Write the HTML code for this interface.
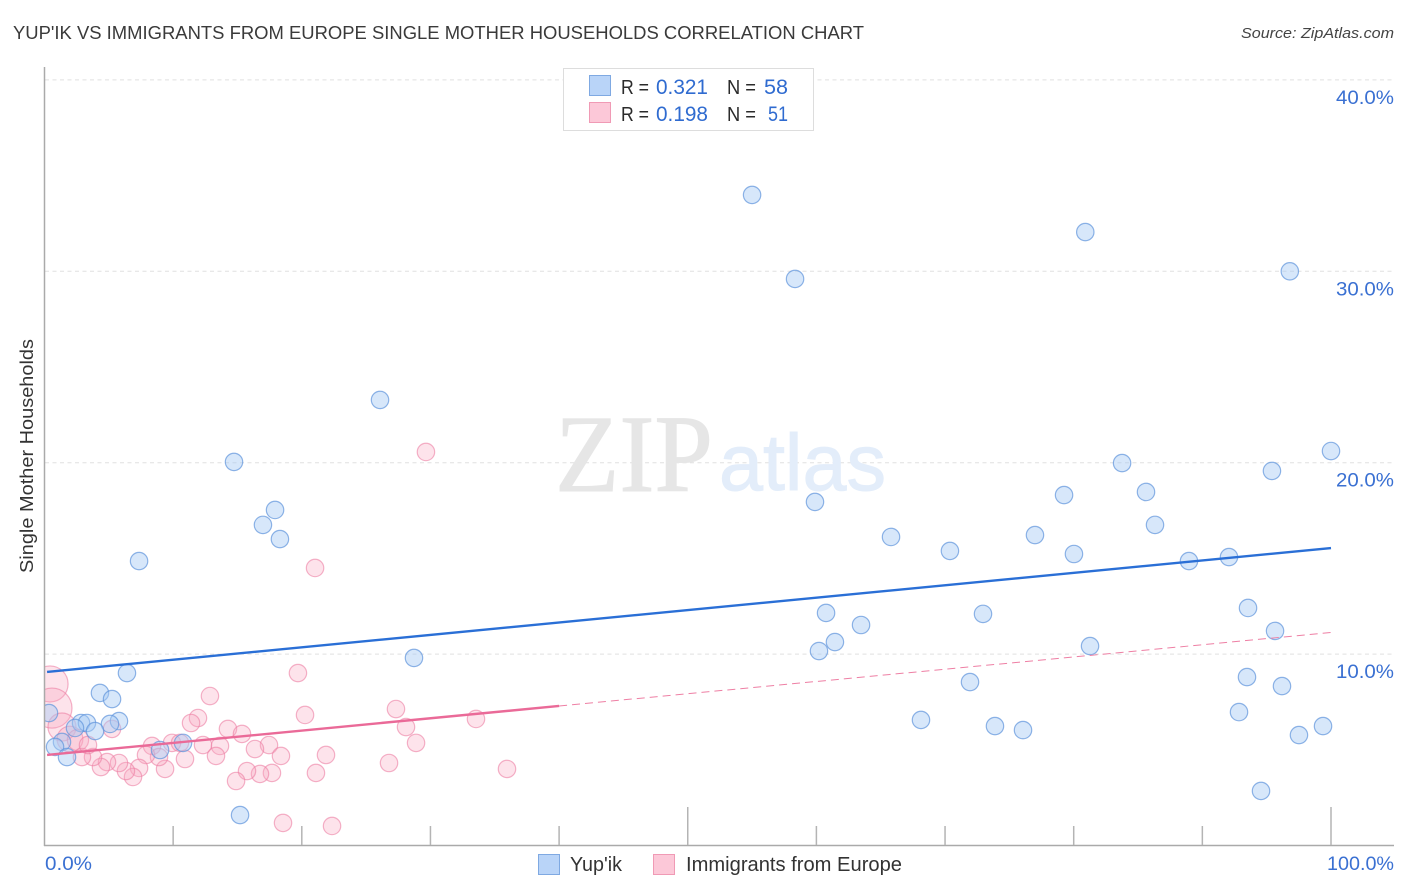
<!DOCTYPE html>
<html lang="en">
<head>
<meta charset="utf-8">
<title>Yup'ik vs Immigrants from Europe Single Mother Households Correlation Chart</title>
<style>
html,body{margin:0;padding:0;background:#fff;width:1406px;height:892px;overflow:hidden}
svg{display:block;font-family:"Liberation Sans",sans-serif}
</style>
</head>
<body>
<svg id="chart" width="1406" height="892" viewBox="0 0 1406 892" xmlns="http://www.w3.org/2000/svg">
  <text x="13" y="39" font-size="18.5" fill="#3a3a3a" textLength="851" lengthAdjust="spacingAndGlyphs">YUP'IK VS IMMIGRANTS FROM EUROPE SINGLE MOTHER HOUSEHOLDS CORRELATION CHART</text>
  <text x="1394" y="38" font-size="15" font-style="italic" fill="#444" text-anchor="end" textLength="153" lengthAdjust="spacingAndGlyphs">Source: ZipAtlas.com</text>
  <g id="grid"></g>
  <g>
    <text x="555" y="491" font-family="'Liberation Serif',serif" font-size="110" fill="#e6e6e6" stroke="#e6e6e6" stroke-width="1" textLength="158" lengthAdjust="spacingAndGlyphs">ZIP</text>
    <text x="719" y="490" font-size="80" fill="#e3edfa" stroke="#e3edfa" stroke-width="1" textLength="167" lengthAdjust="spacingAndGlyphs">atlas</text>
  </g>
  <g id="pink-points"></g>
  <g id="blue-points"></g>
  <rect x="0" y="60" width="44.5" height="790" fill="#fff"/>
  <g id="trends"></g>
  <g id="axes"></g>
  <text transform="translate(33,456) rotate(-90)" font-size="18.5" fill="#333" text-anchor="middle" textLength="234" lengthAdjust="spacingAndGlyphs">Single Mother Households</text>
  <g>
    <rect x="563.5" y="68.5" width="250" height="62" fill="#fff" stroke="#ddd"/>
    <rect x="589.5" y="75.5" width="21" height="20" fill="#b9d4f8" stroke="#7fa9e2"/>
    <rect x="589.5" y="102.5" width="21" height="20" fill="#fcc8d8" stroke="#f09ab5"/>
    <g font-size="20" fill="#2b2b2b">
      <text x="621" y="94" textLength="28" lengthAdjust="spacingAndGlyphs">R =</text>
      <text x="727" y="94" textLength="29" lengthAdjust="spacingAndGlyphs">N =</text>
      <text x="621" y="121" textLength="28" lengthAdjust="spacingAndGlyphs">R =</text>
      <text x="727" y="121" textLength="29" lengthAdjust="spacingAndGlyphs">N =</text>
    </g>
    <g font-size="21" fill="#2f6bd0">
      <text x="656" y="94" textLength="52" lengthAdjust="spacingAndGlyphs">0.321</text>
      <text x="764" y="94" textLength="24" lengthAdjust="spacingAndGlyphs">58</text>
      <text x="656" y="121" textLength="52" lengthAdjust="spacingAndGlyphs">0.198</text>
      <text x="768" y="121" textLength="20" lengthAdjust="spacingAndGlyphs">51</text>
    </g>
  </g>
  <g>
    <rect x="538.5" y="854.5" width="21" height="20" fill="#b9d4f8" stroke="#7fa9e2"/>
    <text x="570" y="871" font-size="20" fill="#333" textLength="52" lengthAdjust="spacingAndGlyphs">Yup'ik</text>
    <rect x="653.5" y="854.5" width="21" height="20" fill="#fcc8d8" stroke="#f09ab5"/>
    <text x="686" y="871" font-size="20" fill="#333" textLength="216" lengthAdjust="spacingAndGlyphs">Immigrants from Europe</text>
  </g>
</svg>
<script>
const yTickValues = [10, 20, 30, 40];
const yTickLabels = ["10.0%", "20.0%", "30.0%", "40.0%"];
const xTickValues = [0, 10, 20, 30, 40, 50, 60, 70, 80, 90, 100];
const xEndLabels = ["0.0%", "100.0%"];

const blueX = [55.0,80.9,58.34,96.8,26.08,100,14.73,83.76,95.41,79.25,85.62,59.89,17.92,16.98,86.32,18.3,65.8,76.99,70.38,80.02,7.35,88.96,92.07,93.55,60.75,72.95,63.47,95.65,61.44,60.2,81.27,28.72,6.41,71.94,93.47,96.19,4.31,5.25,92.85,68.13,0.35,5.79,2.84,3.3,5.09,73.88,76.06,99.38,97.51,3.93,2.37,1.36,0.82,10.77,8.98,1.75,94.56,15.2];
const blueY = [33.99,32.05,29.6,30.0,23.28,20.61,20.04,19.98,19.57,18.31,18.47,17.95,17.53,16.75,16.75,16.01,16.12,16.22,15.39,15.23,14.86,14.86,15.07,12.41,12.15,12.1,11.52,11.21,10.63,10.16,10.42,9.8,9.01,8.54,8.8,8.33,7.97,7.65,6.97,6.56,6.92,6.5,6.4,6.4,6.35,6.24,6.03,6.24,5.77,5.98,6.14,5.41,5.15,5.36,4.99,4.62,2.85,1.59];

const pinkX = [0.43,0.58,1.36,1.98,2.6,29.65,21.03,19.7,12.86,27.32,20.25,33.54,11.93,11.39,14.26,15.35,5.25,28.1,28.88,17.45,8.36,9.91,10.53,12.32,13.64,13.33,16.36,18.38,21.88,21.1,17.68,16.75,15.74,14.89,18.54,22.35,10.92,9.37,8.9,7.89,7.35,6.88,6.33,5.79,4.86,4.39,3.77,2.91,3.38,26.78,35.95];
const pinkY = [8.44,7.18,6.19,5.56,5.51,20.56,14.5,9.01,7.81,7.13,6.82,6.61,6.66,6.4,6.09,5.83,6.09,6.19,5.36,5.25,5.2,5.36,5.36,5.25,5.2,4.68,5.04,4.68,4.73,3.79,3.79,3.74,3.89,3.37,1.18,1.02,4.52,4.0,4.62,4.73,4.05,3.58,3.89,4.31,4.36,4.1,4.62,4.62,5.25,4.31,4.0];
const pinkWeights = [4.3,5.3,2.6,2.2,1.5,1,1,1,1,1,1,1,1,1,1,1,1,1,1,1,1,1,1,1,1,1,1,1,1,1,1,1,1,1,1,1,1,1,1,1,1,1,1,1,1,1,1,1,1,1,1];

const blueTrendX = [0.2, 100];
const blueTrendY = [9.07, 15.54];
const pinkTrendX = [0.2, 40];
const pinkTrendY = [4.73, 7.29];
const pinkDashX = [40, 100];
const pinkDashY = [7.29, 11.13];

const NS = "http://www.w3.org/2000/svg";
const xPos = v => 44.5 + v * 12.865;
const yPos = v => 845.5 - v * 19.14;
const radius = w => 8.7 * Math.sqrt(w);

function make(parent, tag, attrs, text) {
  const el = document.createElementNS(NS, tag);
  for (const k in attrs) el.setAttribute(k, attrs[k]);
  if (text !== undefined) el.textContent = text;
  parent.appendChild(el);
  return el;
}

const grid = document.getElementById("grid");
yTickValues.forEach(v => {
  const el = make(grid, "line", {x1: 45, x2: 1394, y1: yPos(v), y2: yPos(v), stroke: "#e0e0e0", "stroke-dasharray": "4 3.5"});
  
  
});

const axes = document.getElementById("axes");
const yAxis = make(axes, "line", {x1: 44.5, x2: 44.5, y1: 67, y2: 846, stroke: "#aaa", "stroke-width": 1.5});


const xAxis = make(axes, "line", {x1: 44, x2: 1394, y1: 845.5, y2: 845.5, stroke: "#aaa", "stroke-width": 1.5});



xTickValues.slice(1).forEach(v => {
  const top = (v === 50 || v === 100) ? 807 : 826;
  const el = make(axes, "line", {x1: xPos(v), x2: xPos(v), y1: top, y2: 845, stroke: "#b4b4b4", "stroke-width": 1.5});
  
  
});
yTickValues.forEach((v, i) => {
  const el = make(axes, "text", {x: 1394, y: yPos(v) + 24, "text-anchor": "end", "font-size": 19.5, fill: "#3a70d2", textLength: 58, lengthAdjust: "spacingAndGlyphs"}, yTickLabels[i]);
  
  
});
const xStart = make(axes, "text", {x: 45, y: 870, "font-size": 19.5, fill: "#3a70d2", textLength: 47, lengthAdjust: "spacingAndGlyphs"}, xEndLabels[0]);


const xEnd = make(axes, "text", {x: 1394, y: 870, "text-anchor": "end", "font-size": 19.5, fill: "#3a70d2", textLength: 67, lengthAdjust: "spacingAndGlyphs"}, xEndLabels[1]);



const pinkGroup = document.getElementById("pink-points");
pinkX.forEach((x, i) => {
  const c = make(pinkGroup, "circle", {cx: xPos(x), cy: yPos(pinkY[i]), r: radius(pinkWeights[i]), fill: "#f9a8c2", "fill-opacity": 0.32, stroke: "#ec7fa3", "stroke-opacity": 0.6, "stroke-width": 1.2});
  
  
});
const blueGroup = document.getElementById("blue-points");
blueX.forEach((x, i) => {
  const c = make(blueGroup, "circle", {cx: xPos(x), cy: yPos(blueY[i]), r: 8.7, fill: "#a6c9f5", "fill-opacity": 0.45, stroke: "#5f94dc", "stroke-opacity": 0.7, "stroke-width": 1.2});
  
  
});

const trends = document.getElementById("trends");
const pinkDash = make(trends, "line", {x1: xPos(pinkDashX[0]), y1: yPos(pinkDashY[0]), x2: xPos(pinkDashX[1]), y2: yPos(pinkDashY[1]), stroke: "#ee7fa4", "stroke-width": 1, "stroke-dasharray": "8 5"});


const pinkTrend = make(trends, "line", {x1: xPos(pinkTrendX[0]), y1: yPos(pinkTrendY[0]), x2: xPos(pinkTrendX[1]), y2: yPos(pinkTrendY[1]), stroke: "#ea6a98", "stroke-width": 2.4});


const blueTrend = make(trends, "line", {x1: xPos(blueTrendX[0]), y1: yPos(blueTrendY[0]), x2: xPos(blueTrendX[1]), y2: yPos(blueTrendY[1]), stroke: "#2a6fd6", "stroke-width": 2.4});


</script>
</body>
</html>
